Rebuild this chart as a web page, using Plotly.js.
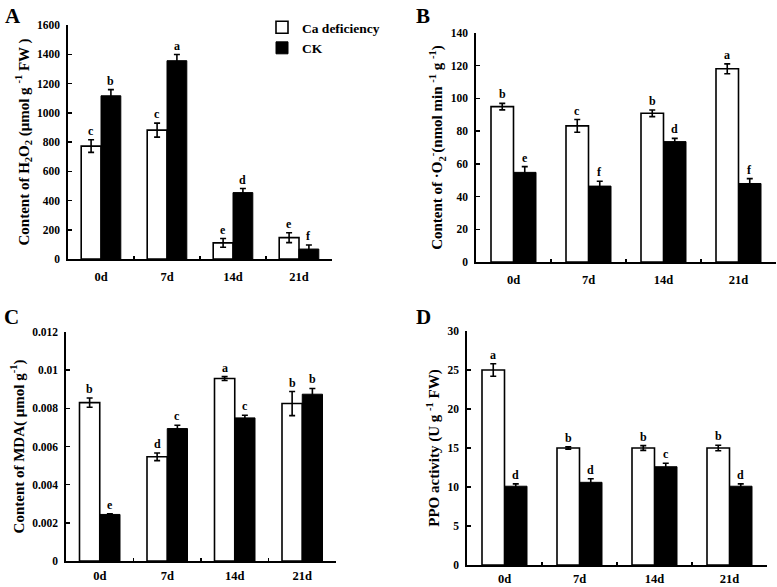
<!DOCTYPE html>
<html><head><meta charset="utf-8">
<script src="https://cdn.plot.ly/plotly-3.0.1.min.js"></script>
<style>html,body{margin:0;padding:0;background:#fff}#chart{width:777px;height:587px}</style>
</head><body><div id="chart"></div>
<script>
const days = ['0d', '7d', '14d', '21d'];
const seriesNames = ['Ca deficiency', 'CK'];

// A: H2O2
const h2o2Ca = [772, 881, 110, 146];
const h2o2CaErr = [43, 48, 30, 34];
const h2o2CK = [1116, 1356, 454, 68];
const h2o2CKErr = [42, 42, 28, 28];
const h2o2CaLetters = ['c', 'c', 'e', 'e'];
const h2o2CKLetters = ['b', 'a', 'd', 'f'];

// B: superoxide
const o2Ca = [95.0, 83.2, 90.9, 118.1];
const o2CaErr = [2, 3.9, 2, 3];
const o2CK = [54.8, 46.4, 73.6, 48.0];
const o2CKErr = [3.5, 3, 2, 3];
const o2CaLetters = ['b', 'c', 'b', 'a'];
const o2CKLetters = ['e', 'f', 'd', 'f'];

// C: MDA
const mdaCa = [0.0083, 0.00546, 0.00956, 0.00825];
const mdaCaErr = [0.00024, 0.0002, 0.0001, 0.00063];
const mdaCK = [0.00244, 0.00694, 0.0075, 0.00874];
const mdaCKErr = [0.00003, 0.00017, 0.00014, 0.0003];
const mdaCaLetters = ['b', 'd', 'a', 'b'];
const mdaCKLetters = ['e', 'c', 'c', 'b'];

// D: PPO
const ppoCa = [25.0, 15.0, 15.0, 15.0];
const ppoCaErr = [0.8, 0.15, 0.3, 0.35];
const ppoCK = [10.1, 10.6, 12.6, 10.1];
const ppoCKErr = [0.3, 0.45, 0.45, 0.3];
const ppoCaLetters = ['a', 'b', 'b', 'b'];
const ppoCKLetters = ['d', 'd', 'c', 'd'];

const panelLabels = ['A', 'B', 'C', 'D'];
const yTitles = [
  'Content of H<sub>2</sub>O<sub>2</sub> (μmol g <sup>-1</sup> FW )',
  'Content of ·O<sub>2</sub><sup>-</sup>(nmol min <sup>-1</sup> g <sup>-1</sup>)',
  'Content of MDA( μmol g<sup>-1</sup>)',
  'PPO activity (U g <sup>-1</sup> FW)'
];
const yRanges = [[0, 1600], [0, 140], [0, 0.012], [0, 30]];
const yDticks = [200, 20, 0.002, 5];

const panels = [
  {ca: h2o2Ca, caErr: h2o2CaErr, ck: h2o2CK, ckErr: h2o2CKErr, caL: h2o2CaLetters, ckL: h2o2CKLetters},
  {ca: o2Ca, caErr: o2CaErr, ck: o2CK, ckErr: o2CKErr, caL: o2CaLetters, ckL: o2CKLetters},
  {ca: mdaCa, caErr: mdaCaErr, ck: mdaCK, ckErr: mdaCKErr, caL: mdaCaLetters, ckL: mdaCKLetters},
  {ca: ppoCa, caErr: ppoCaErr, ck: ppoCK, ckErr: ppoCKErr, caL: ppoCaLetters, ckL: ppoCKLetters}
];

const W = 777, H = 587;
// plot areas in pixels: [left, right, top, bottom]
const boxes = [
  [68, 332, 25, 259],
  [476, 776, 33, 262],
  [66, 336, 332, 561],
  [467, 767, 331, 565]
];
const xLabelStandoff = [5, 5, 2, 1];
const labelPos = [[3, 2], [414, 2], [2, 303], [414, 303]];

const FONT = '"Liberation Serif", "Times New Roman", Times, serif';
const traces = [];
const annotations = [];
const layout = {
  width: W, height: H,
  margin: {l: 0, r: 0, t: 0, b: 0},
  paper_bgcolor: '#fff', plot_bgcolor: '#fff',
  barmode: 'group', bargap: 0.4, bargroupgap: 0,
  font: {family: FONT, size: 11, color: '#000', weight: 700},
  showlegend: true,
  legend: {
    x: 262 / W, y: 1 - 12 / H, xanchor: 'left', yanchor: 'top',
    font: {family: FONT, size: 13.5, color: '#000', weight: 700},
    bgcolor: 'rgba(0,0,0,0)', itemwidth: 30, tracegroupgap: 3,
    traceorder: 'normal'
  }
};

panels.forEach((p, k) => {
  const sfx = k === 0 ? '' : String(k + 1);
  const xa = 'x' + sfx, ya = 'y' + sfx;
  const b = boxes[k];
  traces.push({
    type: 'bar', name: seriesNames[0], x: days, y: p.ca, xaxis: xa, yaxis: ya,
    marker: {color: '#ffffff', line: {color: '#000', width: 1.6}},
    error_y: {type: 'data', array: p.caErr, visible: true, color: '#000', thickness: 1.6, width: 3},
    showlegend: k === 0, legendgroup: 'ca', hoverinfo: 'skip'
  });
  traces.push({
    type: 'bar', name: seriesNames[1], x: days, y: p.ck, xaxis: xa, yaxis: ya,
    marker: {color: '#000000', line: {color: '#000', width: 1}},
    error_y: {type: 'data', array: p.ckErr, visible: true, color: '#000', thickness: 1.6, width: 3},
    showlegend: k === 0, legendgroup: 'ck', hoverinfo: 'skip'
  });
  layout['xaxis' + sfx] = {
    domain: [b[0] / W, b[1] / W], anchor: ya, type: 'category',
    range: [-0.5, 3.5], showgrid: false, zeroline: false,
    showline: true, linecolor: '#000', linewidth: 1.6,
    ticks: 'inside', tickson: 'boundaries', ticklen: 3, tickwidth: 1.5, tickcolor: '#000',
    ticklabelstandoff: xLabelStandoff[k],
    tickfont: {family: FONT, size: 12.5, color: '#000', weight: 700}, fixedrange: true
  };
  layout['yaxis' + sfx] = {
    domain: [1 - b[3] / H, 1 - b[2] / H], anchor: xa,
    range: yRanges[k], dtick: yDticks[k], tick0: 0, showgrid: false, zeroline: false,
    showline: true, linecolor: '#000', linewidth: 1.6,
    ticks: 'inside', ticklen: 4, tickwidth: 1.5, tickcolor: '#000',
    ticklabelstandoff: 4,
    tickfont: {family: FONT, size: 11.5, color: '#000', weight: 700},
    title: {text: yTitles[k], font: {family: FONT, size: 15, color: '#000', weight: 700}, standoff: 4},
    fixedrange: true
  };
  p.ca.forEach((v, i) => {
    annotations.push({xref: xa, yref: ya, x: i - 0.15, y: v + p.caErr[i], text: p.caL[i],
      showarrow: false, yanchor: 'bottom', yshift: 0,
      font: {family: FONT, size: 12, color: '#000', weight: 700}});
    annotations.push({xref: xa, yref: ya, x: i + 0.15, y: p.ck[i] + p.ckErr[i], text: p.ckL[i],
      showarrow: false, yanchor: 'bottom', yshift: 0,
      font: {family: FONT, size: 12, color: '#000', weight: 700}});
  });
  annotations.push({xref: 'paper', yref: 'paper', x: labelPos[k][0] / W, y: 1 - labelPos[k][1] / H,
    xanchor: 'left', yanchor: 'top', text: panelLabels[k], showarrow: false,
    font: {family: FONT, size: 21, color: '#000', weight: 700}});
});
layout.annotations = annotations;

Plotly.newPlot('chart', traces, layout, {displayModeBar: false, staticPlot: true});
</script>
</body></html>
